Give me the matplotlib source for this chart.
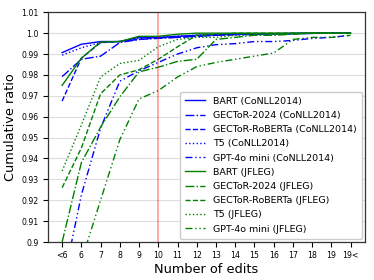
import matplotlib
matplotlib.use("Agg")
import matplotlib.pyplot as plt

x_labels = ["<6", "6", "7", "8", "9", "10", "11", "12", "13", "14", "15", "16", "17", "18", "19", "19<"]

bart_conll = [0.9907, 0.9947, 0.9960, 0.9960, 0.9980, 0.9980, 0.9985, 0.9990, 0.9993, 0.9995, 0.9997, 0.9998, 0.9999, 1.0, 1.0, 1.0]
gector2024_conll = [0.9792, 0.9875, 0.9890, 0.9955, 0.9970, 0.9975, 0.9980, 0.9985, 0.9990, 0.9993, 0.9995, 0.9997, 0.9998, 0.9999, 1.0, 1.0]
gectorrob_conll = [0.9675, 0.9880, 0.9955, 0.9960, 0.9970, 0.9978, 0.9980, 0.9985, 0.9990, 0.9993, 0.9995, 0.9997, 0.9998, 0.9999, 1.0, 1.0]
t5_conll = [0.9895, 0.9930, 0.9955, 0.9960, 0.9975, 0.9980, 0.9985, 0.9990, 0.9992, 0.9994, 0.9996, 0.9997, 0.9998, 0.9999, 1.0, 1.0]
gpt_conll = [0.8780, 0.9225, 0.9545, 0.9770, 0.9820, 0.9860, 0.9900, 0.9930, 0.9945, 0.9950, 0.9960, 0.9960, 0.9965, 0.9975, 0.9980, 0.9990]

bart_jfleg = [0.9750, 0.9880, 0.9958, 0.9960, 0.9985, 0.9985, 0.9995, 1.0, 1.0, 1.0, 1.0, 1.0, 1.0, 1.0, 1.0, 1.0]
gector2024_jfleg = [0.9000, 0.9380, 0.9550, 0.9695, 0.9815, 0.9837, 0.9865, 0.9875, 0.9970, 0.9980, 0.9990, 0.9990, 0.9995, 1.0, 1.0, 1.0]
gectorrob_jfleg = [0.9260, 0.9450, 0.9710, 0.9800, 0.9825, 0.9875, 0.9935, 0.9990, 0.9995, 1.0, 1.0, 1.0, 1.0, 1.0, 1.0, 1.0]
t5_jfleg = [0.9340, 0.9560, 0.9790, 0.9855, 0.9870, 0.9935, 0.9970, 0.9980, 0.9980, 0.9990, 0.9993, 0.9995, 0.9997, 1.0, 1.0, 1.0]
gpt_jfleg = [0.8600, 0.8910, 0.9200, 0.9490, 0.9685, 0.9725, 0.9790, 0.9840, 0.9860, 0.9875, 0.9890, 0.9905, 0.9970, 0.9980, 0.9980, 0.9990]

series = [
    ("BART (CoNLL2014)", bart_conll, "blue", "-"),
    ("GECToR-2024 (CoNLL2014)", gector2024_conll, "blue", "-."),
    ("GECToR-RoBERTa (CoNLL2014)", gectorrob_conll, "blue", "--"),
    ("T5 (CoNLL2014)", t5_conll, "blue", ":"),
    ("GPT-4o mini (CoNLL2014)", gpt_conll, "blue", (0, (5, 2, 1, 2, 1, 2))),
    ("BART (JFLEG)", bart_jfleg, "green", "-"),
    ("GECToR-2024 (JFLEG)", gector2024_jfleg, "green", "-."),
    ("GECToR-RoBERTa (JFLEG)", gectorrob_jfleg, "green", "--"),
    ("T5 (JFLEG)", t5_jfleg, "green", ":"),
    ("GPT-4o mini (JFLEG)", gpt_jfleg, "green", (0, (5, 2, 1, 2, 1, 2))),
]

fig = plt.figure(figsize=(3.74, 2.80), dpi=100)
ax = fig.add_axes([47.7 / 374, 1 - 242 / 280, (365 - 47.7) / 374, (242 - 12.3) / 280])

xs = list(range(len(x_labels)))
for name, vals, col, ls in series:
    ax.plot(xs, vals, color=col, linestyle=ls, linewidth=1.0, label=name)

ax.axvline(5, color="red", alpha=0.4, linewidth=1.2)

ax.set_ylim(0.9, 1.01)
ax.set_xlim(-0.75, 15.75)
ax.set_xticks(xs)
ax.set_xticklabels(x_labels, fontsize=5.6)
ax.set_yticks([0.9, 0.91, 0.92, 0.93, 0.94, 0.95, 0.96, 0.97, 0.98, 0.99, 1.0, 1.01])
ax.set_yticklabels(["0.9", "0.91", "0.92", "0.93", "0.94", "0.95", "0.96", "0.97", "0.98", "0.99", "1.0", "1.01"], fontsize=5.6)
ax.yaxis.grid(True, color="#dddddd", linewidth=0.8)
ax.set_axisbelow(True)
ax.tick_params(length=3.5, width=0.8, pad=3)
for sp in ax.spines.values():
    sp.set_color("#333333")
    sp.set_linewidth(0.9)

ax.set_xlabel("Number of edits", fontsize=9.3, labelpad=2)
ax.set_ylabel("Cumulative ratio", fontsize=9.3, labelpad=3)

ax.legend(loc="lower right", fontsize=6.8, handlelength=2.1, handletextpad=0.8,
          labelspacing=0.55, borderpad=0.55, borderaxespad=0.35,
          framealpha=1.0, edgecolor="#cccccc", fancybox=True)

fig.savefig("out.png", dpi=100)
